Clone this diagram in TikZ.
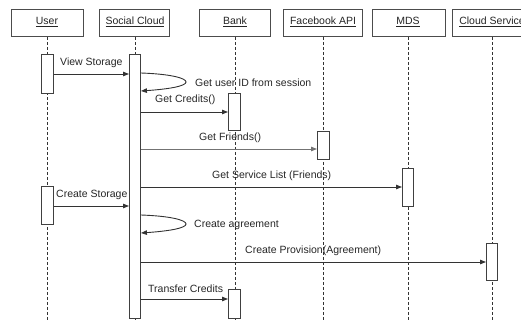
\documentclass[tikz,border=0pt]{standalone}
\usepackage{fontspec}
\setmainfont{Liberation Sans}
\usetikzlibrary{arrows.meta}
\begin{document}
\begin{tikzpicture}[x=1pt,y=-1pt,
  every node/.style={font=\fontsize{10.5}{12}\selectfont, text=black!85, inner sep=0pt},
  head/.style={draw=black!70, line width=0.9pt, fill=white, minimum height=27pt, anchor=north west},
  life/.style={draw=black!80, line width=0.8pt, dash pattern=on 3pt off 2pt},
  act/.style={draw=black!75, line width=0.9pt, fill=white, minimum width=12pt, anchor=north west},
  msg/.style={draw=black!80, line width=0.9pt, -{Triangle[length=6pt,width=4.5pt]}},
  lbl/.style={anchor=west}]
\useasboundingbox (0,0) rectangle (521,321);
\clip (0,0) rectangle (521,321);
% headers
\node[head, minimum width=72pt] (hU) at (11,9) {};
\node[head, minimum width=70pt] (hS) at (99,9) {};
\node[head, minimum width=71pt] (hB) at (199,9) {};
\node[head, minimum width=79pt] (hF) at (283,9) {};
\node[head, minimum width=73pt] (hM) at (372,9) {};
\node[head, minimum width=80pt] (hC) at (452,9) {};
\node (tU) at (47,22) {\underline{User}};
\node (tS) at (135,22) {\underline{Social Cloud}};
\node (tB) at (235,22) {\underline{Bank}};
\node (tF) at (323,22) {\underline{Facebook API}};
\node (tM) at (408,22) {\underline{MDS}};
\node (tC) at (492,22) {\underline{Cloud Service}};
% lifelines
\draw[life] (hU.south -| 47,0) -- (47,321);
\draw[life] (hS.south -| 135,0) -- (135,321);
\draw[life] (hB.south -| 235,0) -- (235,321);
\draw[life] (hF.south -| 323,0) -- (323,321);
\draw[life] (hM.south -| 408,0) -- (408,321);
\draw[life] (hC.south -| 492,0) -- (492,321);
% activations
\node[act, minimum height=39pt] (uA1) at (41,54) {};
\node[act, minimum height=38pt] (uA2) at (41,186) {};
\node[act, minimum width=11pt, minimum height=264pt] (sA) at (129,54) {};
\node[act, minimum height=37pt] (bA1) at (228,93) {};
\node[act, minimum height=29pt] (bA2) at (228,289) {};
\node[act, minimum height=28pt] (fA) at (317,131) {};
\node[act, minimum width=11pt, minimum height=38pt] (mA) at (402,168) {};
\node[act, minimum width=11pt, minimum height=37pt] (cA) at (486,243) {};
% messages
\draw[msg] (uA1.east |- 0,74) -- (sA.west |- 0,74);
\node[lbl] (l1) at (60,63) {View Storage};
\draw[msg] (sA.east |- 0,73) .. controls (170,74) and (186,78) .. (186,82) .. controls (186,86) and (170,89) .. (sA.east |- 0,91);
\node[lbl] (l2) at (195,83) {Get user ID from session};
\draw[msg] (sA.east |- 0,112) -- (bA1.west |- 0,112);
\node[lbl] (l3) at (155,100) {Get Credits()};
\draw[msg, draw=black!55] (sA.east |- 0,149) -- (fA.west |- 0,149);
\node[lbl] (l4) at (199,138) {Get Friends()};
\draw[msg] (sA.east |- 0,187) -- (mA.west |- 0,187);
\node[lbl] (l5) at (212,176) {Get Service List (Friends)};
\draw[msg] (uA2.east |- 0,206) -- (sA.west |- 0,206);
\node[lbl] (l6) at (56,195) {Create Storage};
\draw[msg] (sA.east |- 0,215) .. controls (170,216) and (186,220) .. (186,224) .. controls (186,228) and (170,231) .. (sA.east |- 0,233);
\node[lbl] (l7) at (194,225) {Create agreement};
\draw[msg] (sA.east |- 0,262) -- (cA.west |- 0,262);
\node[lbl] (l8) at (245,251) {Create Provision(Agreement)};
\draw[msg] (sA.east |- 0,299) -- (bA2.west |- 0,299);
\node[lbl] (l9) at (148,289) {Transfer Credits};
\end{tikzpicture}
\end{document}
